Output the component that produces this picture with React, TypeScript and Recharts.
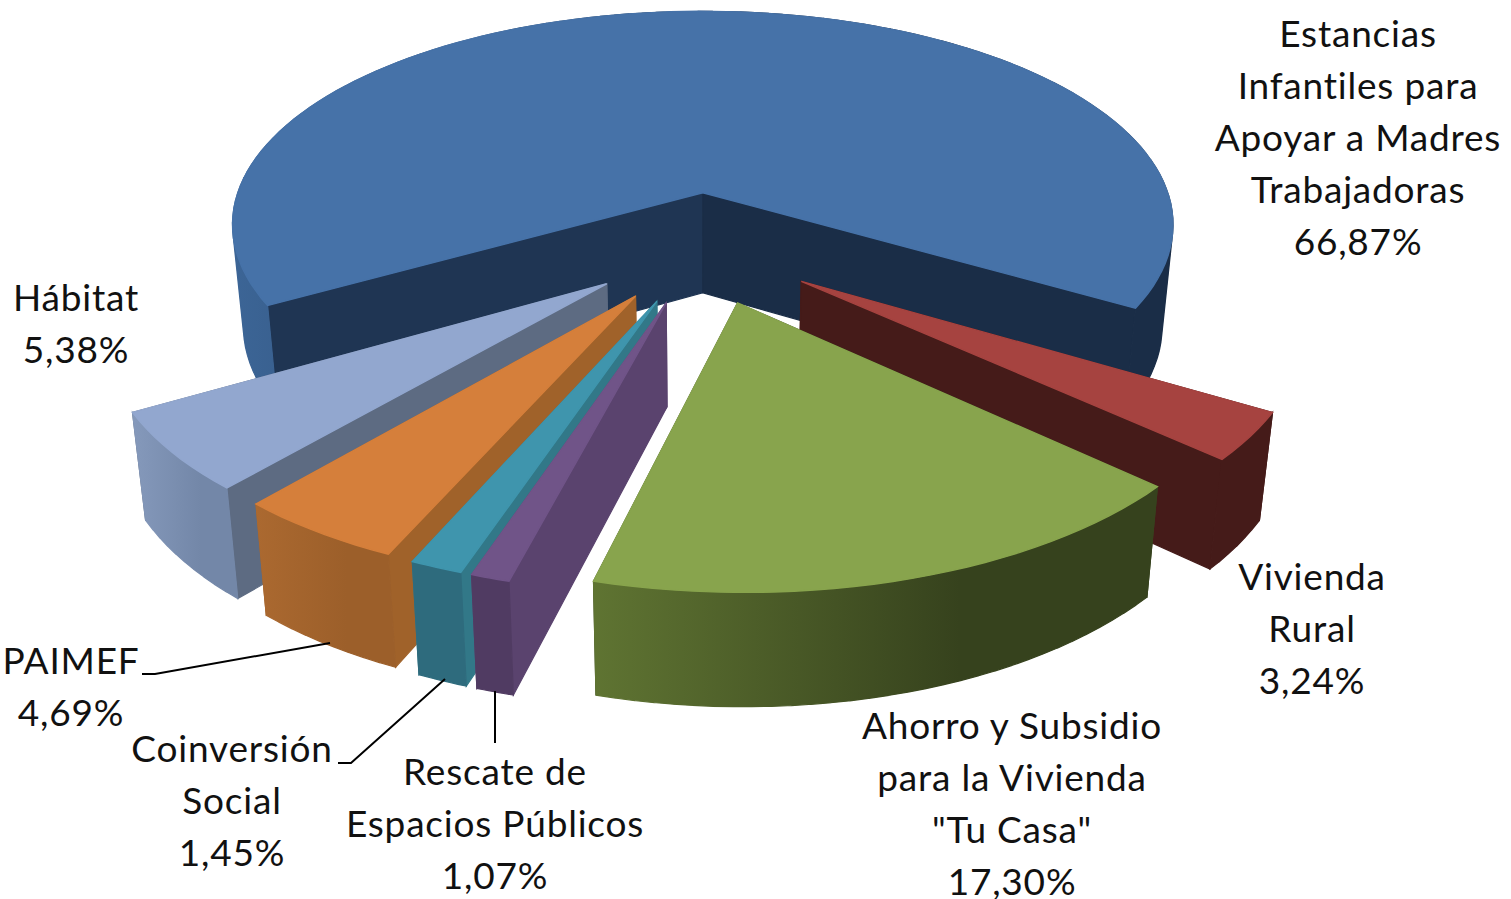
import React from 'react';
import { PieChart, Pie } from 'recharts';

const categories = [
    'Vivienda Rural',
    'Estancias Infantiles para Apoyar a Madres Trabajadoras',
    'Hábitat',
    'PAIMEF',
    'Coinversión Social',
    'Rescate de Espacios Públicos',
    'Ahorro y Subsidio para la Vivienda "Tu Casa"',
];
const shares = [3.24, 66.87, 5.38, 4.69, 1.45, 1.07, 17.3];

// how each label wraps, same order as categories
const labelLines = [
    ['Vivienda', 'Rural'],
    ['Estancias', 'Infantiles para', 'Apoyar a Madres', 'Trabajadoras'],
    ['Hábitat'],
    ['PAIMEF'],
    ['Coinversión', 'Social'],
    ['Rescate de', 'Espacios Públicos'],
    ['Ahorro y Subsidio', 'para la Vivienda', '"Tu Casa"'],
];
const labelX = [1312, 1358, 76, 71, 232, 495, 1012];
const labelY = [590, 47, 311, 674, 762, 785, 739];
const leaders: (string | null)[] = [
    null,
    null,
    null,
    'M142 674 L155 674 L330 643',
    'M338 763 L351 763 L445 679',
    'M495 691 L495 743',
    null,
];

// top, radial wall (left one), radial wall (right one), outer wall left, outer wall right
const palette = [
    ['#a64340', '#451b19', '#451b19', '#451b19', '#451b19'],
    ['#4672a8', '#1f3553', '#1a2d47', '#3c6596', '#1a2d47'],
    ['#92a7cf', '#5d6b82', '#5d6b82', '#8599bb', '#7387a8'],
    ['#d57f3b', '#a0622a', '#a0622a', '#ab6930', '#9c5f2a'],
    ['#3f95ad', '#327888', '#327888', '#2e6b7d', '#2e6b7d'],
    ['#705488', '#5a436e', '#5a436e', '#503b62', '#503b62'],
    ['#88a44d', '#37431e', '#37431e', '#5f7432', '#36421d'],
];

const WIDTH = 1511;
const HEIGHT = 899;
const CX = 702;
const CY = 247;
const RADIUS = 483;
const EXPLODE = 0.25;
const PERSPECTIVE = 0.155;
const TILT = 0.466;

const rad = (deg: number) => (deg * Math.PI) / 180;

const project = (x: number, z: number) => {
    const w = 1 / (1 - PERSPECTIVE * z);
    return [CX + RADIUS * x * w, CY + RADIUS * TILT * z * w];
};

// the bottom rim is a bit narrower and drops further towards the viewer
const drop = ([x, y]: number[]) => [CX + (x - CX) * 0.977, y + 100 + (y - 194) * 0.036];

const toPath = (pts: number[][]) =>
    'M' + pts.map(p => `${p[0].toFixed(1)} ${p[1].toFixed(1)}`).join(' L') + ' Z';

const signedArea = (pts: number[][]) =>
    pts.reduce((sum, p, i) => {
        const q = pts[(i + 1) % pts.length];
        return sum + p[0] * q[1] - q[0] * p[1];
    }, 0);

// one quad per rim step, all wound the same way so the overlaps stay filled
const outerWallPath = (rim: number[][]) => {
    const quads: string[] = [];
    for (let i = 0; i < rim.length - 1; i++) {
        const quad = [rim[i], rim[i + 1], drop(rim[i + 1]), drop(rim[i])];
        quads.push(toPath(signedArea(quad) < 0 ? quad.reverse() : quad));
    }
    return quads.join(' ');
};

const Slice3D = (props: any) => {
    const { startAngle, endAngle, midAngle, name } = props;
    const index = categories.indexOf(name);
    const colors = palette[index];
    const mid = midAngle ?? (startAngle + endAngle) / 2;
    const ox = EXPLODE * Math.cos(rad(mid));
    const oz = -EXPLODE * Math.sin(rad(mid));

    const rim: number[][] = [];
    const steps = Math.max(6, Math.ceil(Math.abs(endAngle - startAngle) / 2));
    for (let i = 0; i <= steps; i++) {
        const a = rad(startAngle + ((endAngle - startAngle) * i) / steps);
        rim.push(project(ox + Math.cos(a), oz - Math.sin(a)));
    }
    const apex = project(ox, oz);
    const first = rim[0];
    const last = rim[rim.length - 1];

    const wallOf = (end: number[]) => ({
        pts: [apex, end, drop(end), drop(apex)],
        color: end === (first[0] < last[0] ? first : last) ? colors[1] : colors[2],
    });
    // nearer wall paints last
    const walls = first[1] < last[1] ? [wallOf(first), wallOf(last)] : [wallOf(last), wallOf(first)];
    const top = [apex, ...rim];

    const xs = [...rim, ...rim.map(drop)].map(p => p[0]);
    const gradId = `outer-${index}`;

    return (
        <g>
            <defs>
                <linearGradient
                    id={gradId}
                    gradientUnits="userSpaceOnUse"
                    x1={Math.min(...xs)}
                    x2={Math.max(...xs)}
                    y1={0}
                    y2={0}
                >
                    <stop offset="0%" stopColor={colors[3]} />
                    <stop offset="65%" stopColor={colors[4]} />
                    <stop offset="100%" stopColor={colors[4]} />
                </linearGradient>
            </defs>
            {walls.map((wall, i) => (
                <path key={i} d={toPath(wall.pts)} fill={wall.color} stroke={wall.color} strokeWidth={1.2} />
            ))}
            <path
                d={outerWallPath(rim)}
                fill={`url(#${gradId})`}
                stroke={`url(#${gradId})`}
                strokeWidth={1.2}
                fillRule="nonzero"
            />
            <path d={toPath(top)} fill={colors[0]} stroke={colors[0]} strokeWidth={1.4} />
        </g>
    );
};

const blueName = categories[1];

const backSlice = (props: any) => (props.name === blueName ? <Slice3D {...props} /> : <g />);
const frontSlice = (props: any) => (props.name === blueName ? <g /> : <Slice3D {...props} />);

const SliceLabel = (props: any) => {
    const index = categories.indexOf(props.name);
    const lines = [...labelLines[index], shares[index].toFixed(2).replace('.', ',') + '%'];
    return (
        <g>
            {leaders[index] && <path d={leaders[index] as string} fill="none" stroke="#000" strokeWidth={2} />}
            <text
                x={labelX[index]}
                y={labelY[index]}
                textAnchor="middle"
                fontFamily="Lato, sans-serif"
                fontSize={37}
                letterSpacing={0.8}
                fill="#111"
            >
                {lines.map((line, i) => (
                    <tspan key={i} x={labelX[index]} y={labelY[index] + i * 52}>
                        {line}
                    </tspan>
                ))}
            </text>
        </g>
    );
};

const rows = categories.map((name, i) => ({ name, value: shares[i] }));

export default function App() {
    return (
        <div style={{ position: 'absolute', left: 0, top: 0, width: WIDTH, height: HEIGHT, background: '#fff' }}>
            <PieChart width={WIDTH} height={HEIGHT} margin={{ top: 0, right: 0, bottom: 0, left: 0 }}>
                <Pie
                    data={rows}
                    dataKey="value"
                    nameKey="name"
                    cx={CX}
                    cy={CY}
                    innerRadius={0}
                    outerRadius={RADIUS}
                    startAngle={-42.4}
                    endAngle={317.6}
                    stroke="none"
                    shape={backSlice}
                    isAnimationActive={false}
                />
                <Pie
                    data={rows}
                    dataKey="value"
                    nameKey="name"
                    cx={CX}
                    cy={CY}
                    innerRadius={0}
                    outerRadius={RADIUS}
                    startAngle={-42.4}
                    endAngle={317.6}
                    stroke="none"
                    shape={frontSlice}
                    label={SliceLabel}
                    labelLine={false}
                    isAnimationActive={false}
                />
            </PieChart>
        </div>
    );
}
